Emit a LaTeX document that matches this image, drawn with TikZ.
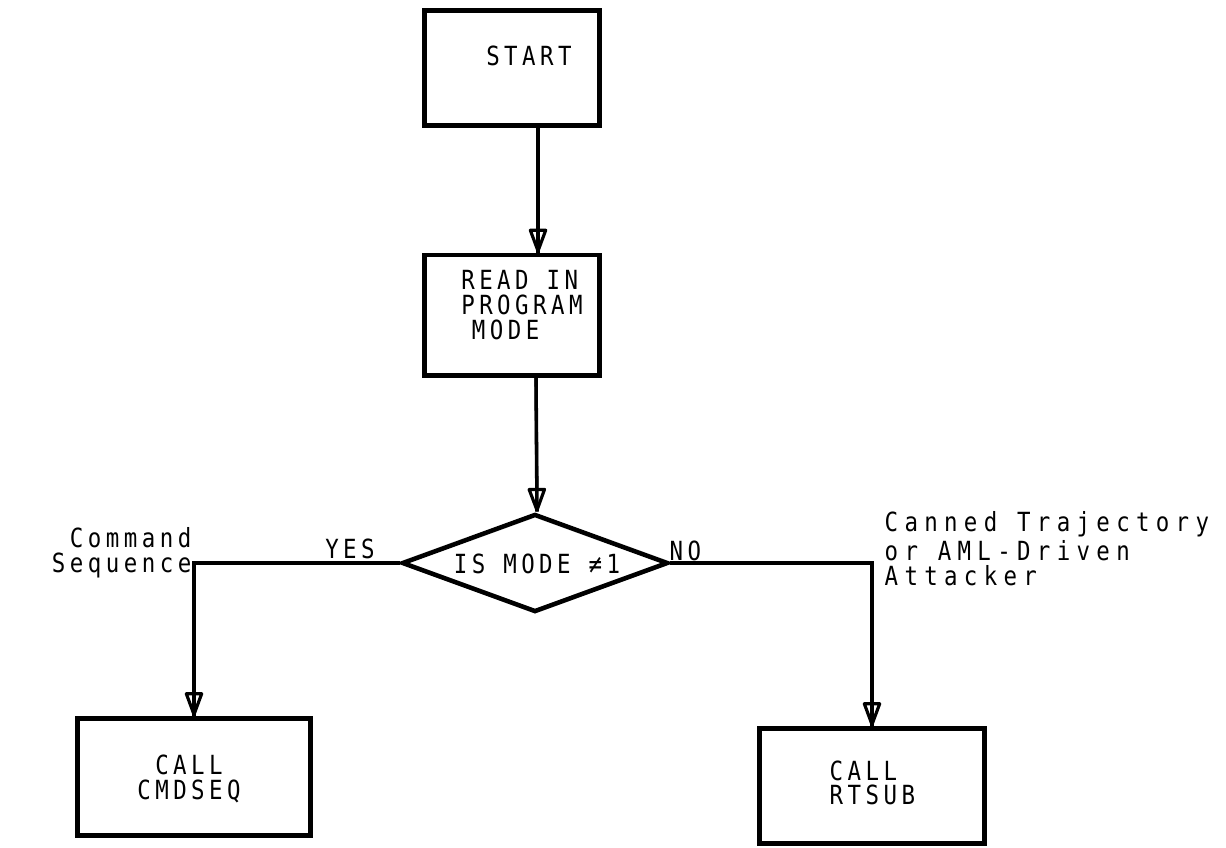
\documentclass[tikz,border=0pt]{standalone}
\usepackage{fontspec}
\setmonofont[LetterSpace=17, FakeStretch=0.85]{DejaVu Sans Mono}
\newfontfamily\widemono[LetterSpace=24, FakeStretch=0.85]{DejaVu Sans Mono}
\usetikzlibrary{arrows.meta,shapes.geometric}

\tikzset{
  box/.style={draw, line width=1.4pt, rectangle, inner sep=0pt},
  decision/.style={draw, line width=1.3pt, diamond, aspect=2.7, inner sep=0pt},
  txt/.style={inner sep=0pt, align=center},
  wire/.style={draw, line width=1pt},
  flow/.style={wire, postaction={draw, line width=0.9pt,
      -{Triangle[open, length=2.7mm, width=1.9mm, round]}}},
}

\begin{document}
\begin{tikzpicture}[x=0.01cm, y=-0.01cm,
    font=\ttfamily\fontsize{7.5}{7}\selectfont]
  \useasboundingbox (0,0) rectangle (1226,847);

  % boxes
  \node[box, minimum width=1.75cm, minimum height=1.15cm] (start) at (512,68) {};
  \node[txt] (startT) at (529,56) {START};

  \node[box, minimum width=1.75cm, minimum height=1.2cm] (read) at (512,315) {};
  \node[txt, align=left] (readT) at (522,305) {READ IN\\PROGRAM\\\hspace{0.4em}MODE};

  \node[decision, minimum width=2.66cm, minimum height=0.98cm] (dia) at (535,563) {};
  \node[txt] (diaT) at (537,564) {IS MODE ≠1};

  \node[box, minimum width=2.33cm, minimum height=1.17cm] (cmd) at (194,777) {};
  \node[txt] (cmdT) at (189,779) {CALL\\CMDSEQ};

  \node[box, minimum width=2.25cm, minimum height=1.15cm] (rt) at (872,786) {};
  \node[txt, align=left, anchor=west] (rtT) at (829,783) {CALL\\RTSUB};

  % connectors
  \path[flow] ([xshift=0.26cm]start.south) -- ([xshift=0.26cm]read.north);
  \path[flow] ([xshift=0.24cm]read.south) -- ([xshift=0.02cm]dia.north);
  \path[flow] (dia.west) -| (cmd.north);
  \path[flow] (dia.east) -| (rt.north);

  % branch labels
  \node[txt, anchor=south] (yes) at (350,560) {YES};
  \node[txt, anchor=south west] (no) at (669,562) {NO};
  \node[txt, align=right, anchor=east] (cmdL) at (192,553) {Command\\Sequence};
  \node[txt, align=left, anchor=north west, font=\widemono\fontsize{7.5}{7}\selectfont]
    (rtL) at (884,511) {Canned Trajectory\\or AML-Driven\\Attacker};
\end{tikzpicture}
\end{document}
